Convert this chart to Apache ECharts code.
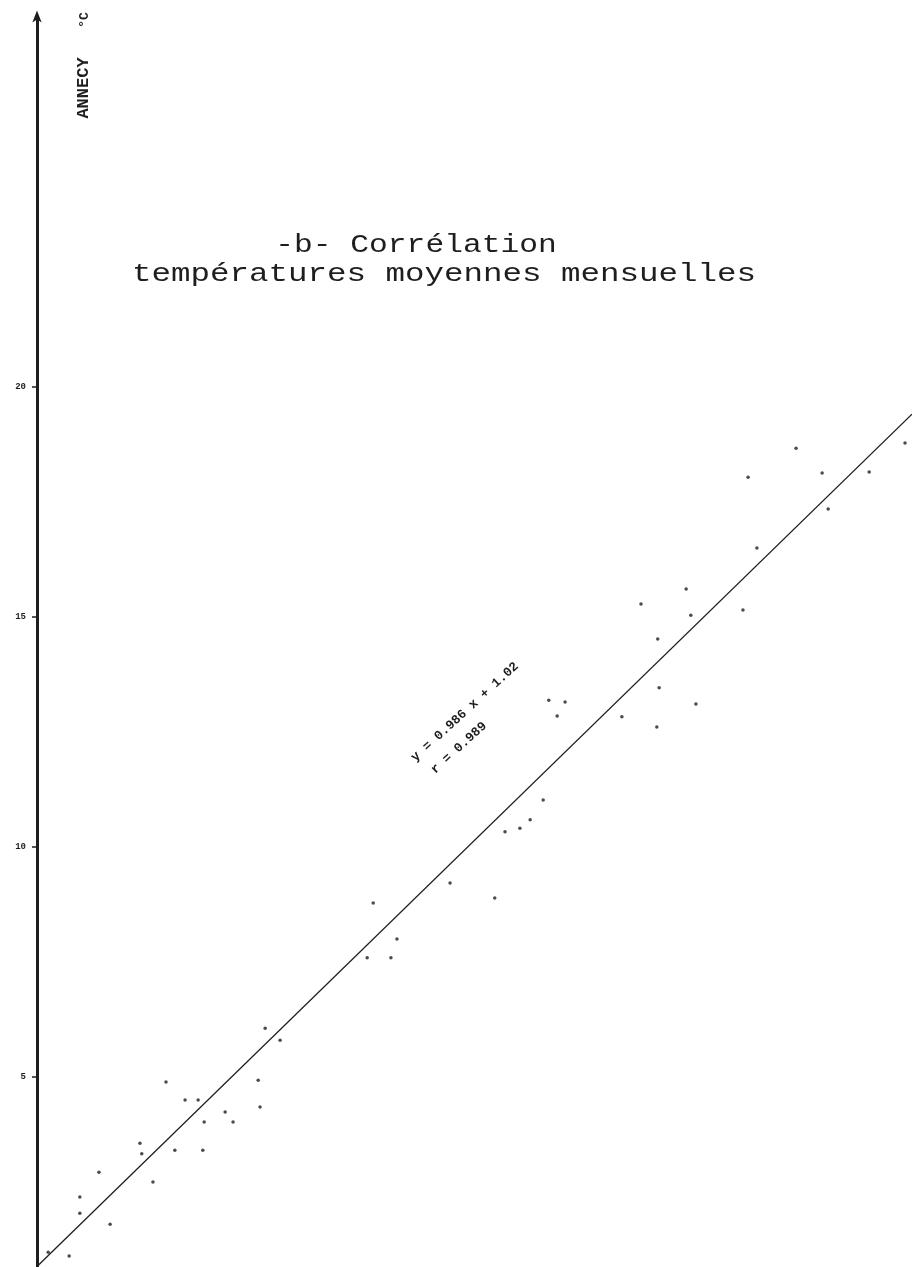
<!DOCTYPE html>
<html>
<head>
<meta charset="utf-8">
<script src="https://cdn.jsdelivr.net/npm/echarts@6/dist/echarts.min.js"></script>
<style>
  html, body { margin: 0; padding: 0; background: #ffffff; }
  #chart { width: 912px; height: 1267px; }
</style>
</head>
<body>
<div id="chart"></div>
<script>
// Monthly mean temperatures (°C): reference station (x) vs Annecy (y)
const refTemps = [
  0.09, 0.54, 0.77, 0.77, 1.18, 1.42, 2.06, 2.10, 2.34, 2.62,
  2.81, 3.03, 3.31, 3.44, 3.41, 3.89, 4.06, 4.60, 4.64, 4.75,
  5.07, 6.94, 7.45, 7.07, 7.58, 8.72, 9.68, 9.90, 10.22, 10.44,
  10.72, 10.84, 11.19, 11.02, 12.41, 13.21, 13.16, 14.00, 12.82, 13.79,
  13.89, 13.18, 15.01, 15.31, 15.12, 16.15, 16.71, 17.72, 16.84, 18.49
];
const annecyTemps = [
  1.18, 1.10, 2.03, 2.38, 2.92, 1.79, 3.55, 3.32, 2.71, 4.88,
  3.40, 4.49, 4.49, 4.01, 3.40, 4.23, 4.01, 4.92, 4.34, 6.05,
  5.79, 7.58, 7.58, 8.77, 7.99, 9.21, 8.88, 10.32, 10.40, 10.58,
  11.01, 13.18, 13.14, 12.84, 12.82, 13.45, 12.60, 13.10, 15.27, 15.60,
  15.03, 14.51, 15.14, 16.49, 18.03, 18.66, 18.12, 18.14, 17.34, 18.77
];

// Regression line y = a x + b and correlation coefficient
const slopeA = 0.986;
const interceptB = 1.02;
const corrR = 0.989;

// Axis ranges and tick labels
const xRange = [-0.15, 18.64];
const yRange = [0.86, 28];
const yTicks = [5, 10, 15, 20];

const points = refTemps.map((x, i) => [x, annecyTemps[i]]);
const fitLine = xRange.map(x => [x, slopeA * x + interceptB]);

const ink = '#1e1e1e';
const mono = '"Liberation Mono", "DejaVu Sans Mono", monospace';

const chart = echarts.init(document.getElementById('chart'), null, { renderer: 'canvas' });

chart.setOption({
  backgroundColor: '#ffffff',
  animation: false,
  grid: { left: 37, right: 0, top: 18.5, bottom: 0, containLabel: false },
  xAxis: {
    type: 'value', min: xRange[0], max: xRange[1],
    show: false, splitLine: { show: false }
  },
  yAxis: {
    type: 'value', min: yRange[0], max: yRange[1],
    axisLine: {
      show: true, onZero: false,
      symbol: ['none', 'arrow'], symbolSize: [7, 12], symbolOffset: [0, 8],
      lineStyle: { color: ink, width: 3 }
    },
    axisTick: { show: true, customValues: yTicks, length: 5, lineStyle: { color: ink, width: 1.5 } },
    axisLabel: {
      customValues: yTicks,
      color: ink, fontSize: 9, fontWeight: 'bold', fontFamily: mono, margin: 11
    },
    splitLine: { show: false }
  },
  series: [
    {
      type: 'line', data: fitLine, showSymbol: false, silent: true,
      lineStyle: { color: ink, width: 1.3 }
    },
    {
      type: 'scatter', data: points, symbol: 'circle', symbolSize: 3.5,
      itemStyle: { color: ink }
    }
  ],
  graphic: [
    // typewriter-style title: wide letter pitch via horizontal stretch
    {
      type: 'text', x: 416, y: 245, scaleX: 1.25,
      style: { text: '-b- Corrélation', font: '25px ' + mono, fill: ink, textAlign: 'center', textVerticalAlign: 'middle' }
    },
    {
      type: 'text', x: 444, y: 274, scaleX: 1.3,
      style: { text: 'températures moyennes mensuelles', font: '25px ' + mono, fill: ink, textAlign: 'center', textVerticalAlign: 'middle' }
    },
    {
      type: 'text', x: 84, y: 88, rotation: Math.PI / 2,
      style: { text: 'ANNECY', font: 'bold 17px ' + mono, fill: ink, textAlign: 'center', textVerticalAlign: 'middle' }
    },
    {
      type: 'text', x: 85, y: 20, rotation: Math.PI / 2,
      style: { text: '°C', font: 'bold 13px ' + mono, fill: ink, textAlign: 'center', textVerticalAlign: 'middle' }
    },
    {
      type: 'text', x: 465, y: 712, rotation: 0.74,
      style: { text: 'y = ' + slopeA + ' x + ' + interceptB.toFixed(2), font: 'bold 13px ' + mono, fill: ink, textAlign: 'center', textVerticalAlign: 'middle' }
    },
    {
      type: 'text', x: 459, y: 748, rotation: 0.74,
      style: { text: 'r = ' + corrR, font: 'bold 13px ' + mono, fill: ink, textAlign: 'center', textVerticalAlign: 'middle' }
    }
  ]
});
</script>
</body>
</html>
